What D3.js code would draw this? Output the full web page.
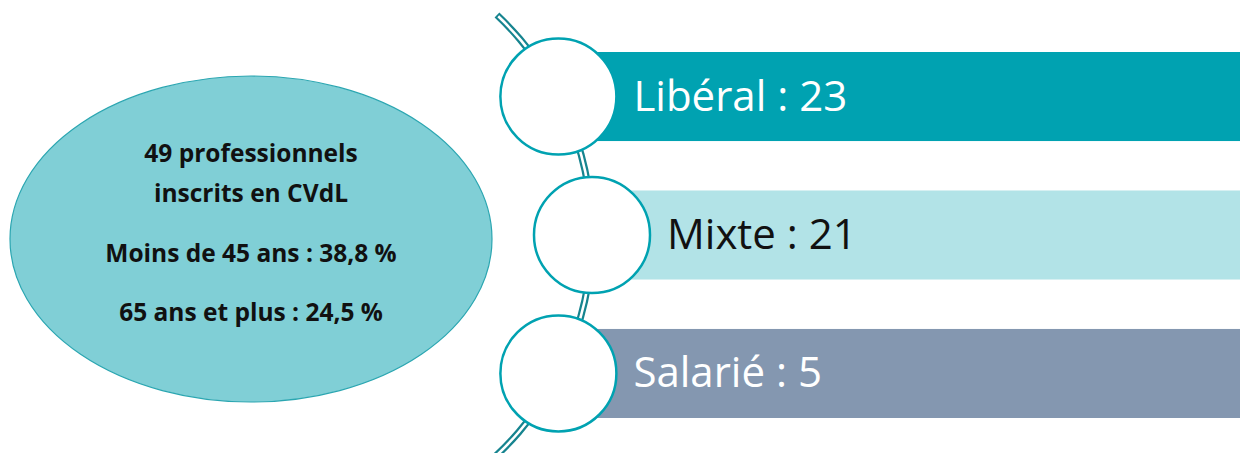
<!DOCTYPE html>
<html>
<head>
<meta charset="utf-8">
<script src="https://cdn.jsdelivr.net/npm/d3@7"></script>
<style>
  body { margin: 0; background: #fff; }
  svg { display: block; }
</style>
</head>
<body>
<div id="chart"></div>
<script>
// data
var categories = ["Libéral", "Mixte", "Salarié"];
var counts = [23, 21, 5];
var summaryLines = ["49 professionnels", "inscrits en CVdL", "Moins de 45 ans : 38,8 %", "65 ans et plus : 24,5 %"];

var barColours = ["#00A2B1", "#B2E3E7", "#8497B0"];
var textColours = ["#ffffff", "#111111", "#ffffff"];

var width = 1243;
var height = 453;

var svg = d3.select("#chart")
    .append("svg")
    .attr("width", width)
    .attr("height", height);

// left ellipse with summary
var ell = svg.append("g").attr("transform", "translate(251,239)");
ell.append("ellipse")
    .attr("rx", 241)
    .attr("ry", 163)
    .attr("fill", "#80CFD6")
    .attr("stroke", "#2BA6B1")
    .attr("stroke-width", 1.2);

var lineY = [-77, -37, 23, 82];
ell.selectAll(".summary")
    .data(summaryLines)
    .enter().append("text")
    .attr("class", "summary")
    .attr("x", 0)
    .attr("y", function(d, i) { return lineY[i]; })
    .attr("text-anchor", "middle")
    .style("font-family", "'Open Sans', sans-serif")
    .style("font-weight", "bold")
    .style("font-size", "24.5px")
    .attr("fill", "#111")
    .text(function(d) { return d; });

// bands for the three rows
var y = d3.scaleBand()
    .domain(categories)
    .range([52, 418])
    .paddingInner(0.357)
    .paddingOuter(0);

// the big arc the circles hang on
var arcCx = 290, arcCy = 235, arcR = 302;
var circleR = 58;

function circleX(cy) {
    var dy = cy - arcCy;
    return arcCx + Math.sqrt(arcR * arcR - dy * dy);
}

var rows = categories.map(function(c, i) {
    var cy = y(c) + y.bandwidth() / 2;
    return { name: c, value: counts[i], cy: cy, cx: circleX(cy), i: i };
});

// double line: dark band, white core
var a0 = 0.755, a1 = 2.5;
var arcG = svg.append("g").attr("transform", "translate(" + arcCx + "," + arcCy + ")");
arcG.append("path")
    .attr("d", d3.arc().innerRadius(arcR - 3.5).outerRadius(arcR + 3.5).startAngle(a0).endAngle(a1)())
    .attr("fill", "#16848F");
arcG.append("path")
    .attr("d", d3.arc().innerRadius(arcR - 1.3).outerRadius(arcR + 1.3).startAngle(a0 + 0.006).endAngle(a1)())
    .attr("fill", "#ffffff");

// bars
svg.selectAll(".bar")
    .data(rows)
    .enter().append("rect")
    .attr("class", "bar")
    .attr("x", function(d) { return d.cx + 30; })
    .attr("y", function(d) { return y(d.name); })
    .attr("width", function(d) { return 1240 - d.cx - 30; })
    .attr("height", y.bandwidth())
    .attr("fill", function(d) { return barColours[d.i]; });

// circles
svg.selectAll(".dot")
    .data(rows)
    .enter().append("circle")
    .attr("class", "dot")
    .attr("cx", function(d) { return d.cx; })
    .attr("cy", function(d) { return d.cy; })
    .attr("r", circleR)
    .attr("fill", "#fff")
    .attr("stroke", "#00A2B1")
    .attr("stroke-width", 2.5);

// labels
svg.selectAll(".label")
    .data(rows)
    .enter().append("text")
    .attr("class", "label")
    .attr("x", function(d) { return d.cx + circleR + 17; })
    .attr("y", function(d) { return d.cy + 14; })
    .style("font-family", "'Open Sans', sans-serif")
    .style("font-size", "42px")
    .attr("fill", function(d) { return textColours[d.i]; })
    .text(function(d) { return d.name + " : " + d.value; });
</script>
</body>
</html>
